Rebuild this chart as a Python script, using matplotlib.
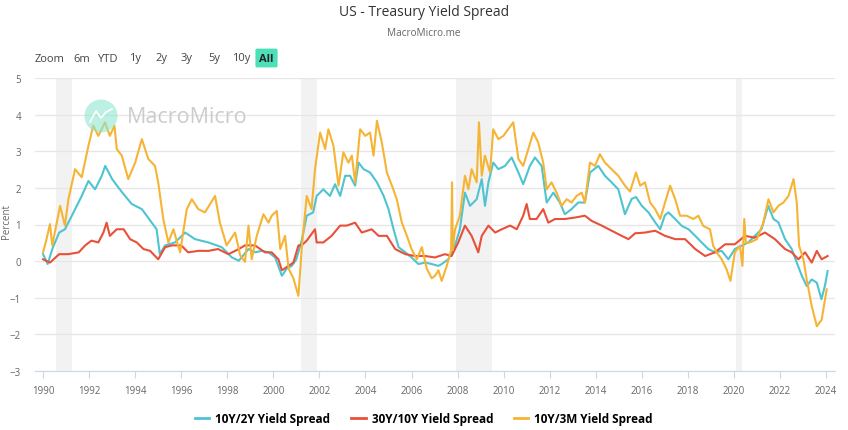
import matplotlib
matplotlib.use("Agg")
import matplotlib.pyplot as plt
from matplotlib.patches import Ellipse
from matplotlib.lines import Line2D

plt.rcParams['font.family'] = ['Open Sans', 'DejaVu Sans']

# ---- data ----
t_2y = [1990.0, 1990.2, 1990.4, 1990.7, 1990.95, 1991.25, 1991.68, 1991.97, 1992.26, 1992.55,
        1992.7, 1993.0, 1993.27, 1993.56, 1993.85, 1994.29, 1994.72, 1994.93, 1995.07, 1995.3,
        1995.73, 1996.17, 1996.6, 1997.18, 1997.76, 1998.2, 1998.5, 1998.92, 1999.2, 1999.5,
        1999.79, 2000.08, 2000.37, 2000.59, 2000.8, 2001.0, 2001.23, 2001.45, 2001.73, 2001.88,
        2002.17, 2002.46, 2002.68, 2002.9, 2003.12, 2003.33, 2003.55, 2003.7, 2003.92, 2004.2,
        2004.5, 2004.79, 2005.0, 2005.22, 2005.44, 2005.73, 2006.0, 2006.3, 2006.59, 2006.88,
        2007.17, 2007.31, 2007.6, 2007.89, 2008.1, 2008.32, 2008.54, 2008.83, 2009.05, 2009.19,
        2009.34, 2009.55, 2009.77, 2010.06, 2010.35, 2010.64, 2010.85, 2011.14, 2011.36, 2011.65,
        2011.87, 2012.16, 2012.44, 2012.66, 2012.95, 2013.24, 2013.53, 2013.75, 2014.11, 2014.4,
        2014.69, 2014.98, 2015.27, 2015.56, 2015.75, 2016.0, 2016.29, 2016.58, 2016.8, 2017.0,
        2017.16, 2017.45, 2017.74, 2018.03, 2018.32, 2018.6, 2018.89, 2019.18, 2019.47, 2019.76,
        2020.04, 2020.33, 2020.62, 2020.91, 2021.2, 2021.49, 2021.72, 2021.93, 2022.22, 2022.51,
        2022.73, 2022.95, 2023.16, 2023.38, 2023.6, 2023.8, 2023.95, 2024.07]
spread_10y2y = [0.19, -0.08, 0.33, 0.78, 0.87, 1.24, 1.78, 2.19, 1.96, 2.33,
                2.6, 2.24, 2.01, 1.78, 1.56, 1.42, 1.05, 0.87, 0.19, 0.43,
                0.51, 0.78, 0.6, 0.51, 0.38, 0.1, 0.01, 0.33, 0.24, 0.28,
                0.24, 0.1, -0.4, -0.2, -0.13, 0.05, 0.56, 1.24, 1.33, 1.78,
                1.96, 1.78, 2.1, 1.78, 2.33, 2.33, 2.06, 2.69, 2.51, 2.42,
                2.15, 1.78, 1.42, 0.87, 0.38, 0.24, 0.1, -0.08, -0.04, -0.08,
                -0.13, -0.08, 0.05, 0.43, 0.87, 1.87, 1.51, 1.69, 2.24, 1.51,
                2.15, 2.69, 2.51, 2.6, 2.83, 2.42, 2.1, 2.6, 2.83, 2.6,
                1.6, 1.87, 1.6, 1.28, 1.42, 1.6, 1.6, 2.42, 2.6, 2.33,
                2.15, 1.96, 1.28, 1.7, 1.75, 1.51, 1.33, 1.06, 0.87, 1.25,
                1.33, 1.15, 0.96, 0.87, 0.69, 0.51, 0.33, 0.24, 0.28, 0.05,
                0.33, 0.42, 0.51, 0.69, 0.87, 1.51, 1.15, 1.06, 0.6, 0.33,
                -0.04, -0.4, -0.68, -0.5, -0.59, -1.04, -0.68, -0.27]

t_30y = [1990.0, 1990.3, 1990.7, 1991.1, 1991.55, 1991.83, 1992.1, 1992.4, 1992.62, 1992.76,
         1992.9, 1993.2, 1993.5, 1993.78, 1994.07, 1994.36, 1994.65, 1995.0, 1995.3, 1995.6,
         1996.0, 1996.3, 1996.75, 1997.18, 1997.6, 1998.05, 1998.5, 1998.77, 1999.2, 1999.64,
         1999.93, 2000.22, 2000.37, 2000.66, 2000.87, 2001.09, 2001.23, 2001.45, 2001.81, 2001.88,
         2002.17, 2002.53, 2002.9, 2003.19, 2003.55, 2003.84, 2004.27, 2004.57, 2004.93, 2005.29,
         2005.73, 2006.15, 2006.59, 2007.02, 2007.45, 2007.74, 2008.03, 2008.32, 2008.61, 2008.9,
         2009.05, 2009.34, 2009.63, 2009.92, 2010.28, 2010.57, 2010.85, 2011.0, 2011.14, 2011.43,
         2011.72, 2011.94, 2012.23, 2012.66, 2013.1, 2013.53, 2013.82, 2014.26, 2014.69, 2015.13,
         2015.42, 2015.71, 2016.14, 2016.58, 2017.01, 2017.45, 2017.88, 2018.32, 2018.75, 2019.18,
         2019.62, 2020.04, 2020.48, 2020.91, 2021.35, 2021.78, 2022.22, 2022.51, 2022.8, 2023.09,
         2023.38, 2023.6, 2023.81, 2024.07]
spread_30y10y = [0.05, -0.04, 0.19, 0.19, 0.24, 0.43, 0.56, 0.51, 0.78, 1.05,
                 0.69, 0.87, 0.87, 0.6, 0.51, 0.33, 0.28, 0.05, 0.38, 0.43,
                 0.43, 0.24, 0.28, 0.28, 0.33, 0.19, 0.33, 0.43, 0.43, 0.24,
                 0.24, 0.05, -0.25, -0.13, -0.04, 0.43, 0.43, 0.56, 0.87, 0.51,
                 0.51, 0.69, 0.97, 0.97, 1.05, 0.78, 0.87, 0.69, 0.69, 0.33,
                 0.19, 0.14, 0.14, 0.1, 0.19, 0.14, 0.51, 0.97, 0.69, 0.24,
                 0.69, 0.97, 0.78, 0.87, 0.97, 0.87, 1.24, 1.56, 1.15, 1.15,
                 1.42, 1.05, 1.15, 1.15, 1.19, 1.24, 1.1, 0.97, 0.83, 0.69,
                 0.6, 0.76, 0.78, 0.83, 0.69, 0.6, 0.6, 0.33, 0.14, 0.24,
                 0.46, 0.46, 0.69, 0.64, 0.78, 0.6, 0.33, 0.24, 0.05, 0.24,
                 -0.04, 0.28, 0.05, 0.14]

t_3m = [1990.0, 1990.15, 1990.3, 1990.4, 1990.55, 1990.74, 1990.95, 1991.1, 1991.39, 1991.68,
        1991.97, 1992.18, 1992.4, 1992.69, 1992.9, 1993.1, 1993.2, 1993.42, 1993.7, 1994.0,
        1994.29, 1994.57, 1994.86, 1995.0, 1995.22, 1995.44, 1995.66, 1995.95, 1996.24, 1996.46,
        1996.74, 1997.03, 1997.47, 1997.68, 1997.97, 1998.34, 1998.56, 1998.77, 1998.92, 1999.06,
        1999.28, 1999.57, 1999.79, 1999.93, 2000.15, 2000.3, 2000.51, 2000.66, 2000.87, 2001.09,
        2001.23, 2001.45, 2001.66, 2001.81, 2002.03, 2002.25, 2002.39, 2002.61, 2002.83, 2003.04,
        2003.26, 2003.41, 2003.55, 2003.77, 2003.99, 2004.2, 2004.35, 2004.5, 2004.71, 2004.93,
        2005.15, 2005.36, 2005.58, 2005.8, 2006.0, 2006.23, 2006.45, 2006.66, 2006.88, 2007.02,
        2007.17, 2007.31, 2007.53, 2007.72, 2007.76, 2007.79, 2007.89, 2008.1, 2008.32, 2008.47,
        2008.61, 2008.83, 2008.93, 2009.05, 2009.19, 2009.41, 2009.55, 2009.77, 2009.99, 2010.2,
        2010.42, 2010.64, 2010.85, 2011.07, 2011.29, 2011.5, 2011.72, 2011.87, 2012.08, 2012.3,
        2012.52, 2012.74, 2012.95, 2013.17, 2013.39, 2013.53, 2013.75, 2013.97, 2014.18, 2014.4,
        2014.69, 2014.98, 2015.27, 2015.49, 2015.75, 2015.93, 2016.14, 2016.36, 2016.58, 2016.8,
        2017.01, 2017.23, 2017.45, 2017.66, 2017.95, 2018.24, 2018.46, 2018.67, 2018.96, 2019.1,
        2019.25, 2019.47, 2019.68, 2019.85, 2020.04, 2020.26, 2020.37, 2020.45, 2020.52, 2020.7,
        2021.0, 2021.28, 2021.5, 2021.72, 2021.93, 2022.15, 2022.37, 2022.59, 2022.73, 2022.83,
        2023.02, 2023.16, 2023.38, 2023.6, 2023.81, 2024.03]
spread_10y3m = [0.24, 0.6, 1.01, 0.43, 0.9, 1.51, 0.97, 1.69, 2.51, 2.29,
                3.15, 3.7, 3.42, 3.79, 3.42, 3.7, 3.06, 2.88, 2.24, 2.69,
                3.33, 2.79, 2.6, 2.15, 1.15, 0.51, 0.87, 0.24, 1.42, 1.69,
                1.42, 1.33, 1.78, 1.05, 0.43, 0.78, 0.16, -0.02, 0.97, 0.05,
                0.69, 1.28, 1.05, 1.24, 1.37, 0.33, 0.69, -0.2, -0.47, -0.95,
                0.33, 1.78, 1.42, 2.51, 3.51, 3.06, 3.6, 3.15, 2.06, 2.97,
                2.69, 2.88, 2.15, 3.6, 3.42, 3.51, 2.88, 3.83, 3.24, 2.42,
                2.06, 1.69, 1.05, 0.69, 0.33, 0.05, 0.38, -0.2, -0.47, -0.4,
                -0.25, -0.54, -0.13, 0.3, 2.15, 0.3, 0.87, 1.24, 2.33, 1.96,
                2.51, 2.15, 3.79, 2.33, 2.88, 2.42, 3.6, 3.33, 3.42, 3.6,
                3.79, 2.79, 2.6, 3.06, 3.51, 3.24, 2.69, 1.96, 2.15, 1.87,
                1.51, 1.69, 1.6, 1.78, 1.87, 1.6, 2.69, 2.6, 2.92, 2.69,
                2.51, 2.33, 2.06, 1.9, 2.42, 2.06, 2.15, 1.6, 1.42, 1.15,
                1.6, 2.06, 1.69, 1.24, 1.24, 1.15, 1.24, 0.96, 0.87, 0.42,
                0.24, 0.05, -0.22, -0.54, 0.24, 0.42, -0.13, 1.15, 0.5, 0.51,
                0.6, 1.06, 1.69, 1.33, 1.51, 1.6, 1.78, 2.24, 1.6, 0.42,
                0.05, -0.5, -1.23, -1.78, -1.6, -0.77]

recessions = [(1990.55, 1991.25), (2001.2, 2001.9), (2007.95, 2009.5), (2020.1, 2020.35)]
year_ticks = list(range(1990, 2025, 2))
y_ticks = [-3, -2, -1, 0, 1, 2, 3, 4, 5]
buttons = ["6m", "YTD", "1y", "2y", "3y", "5y", "10y"]
button_x = [73, 97, 129, 155, 181, 208, 232]

C_2Y = "#4fc4d1"
C_30Y = "#e8503a"
C_3M = "#f6b434"
GRAY = "#666666"

W, H = 848, 431
fig = plt.figure(figsize=(W / 100, H / 100), dpi=100)
ax = fig.add_axes([35 / W, (H - 372) / H, 800 / W, 293 / H])


def fx(px):
    return px / W


def fy(py):
    return (H - py) / H


for a, b in recessions:
    ax.axvspan(a, b, color="#f2f2f2", lw=0, zorder=0)

ax.plot(t_2y, spread_10y2y, color=C_2Y, lw=1.5, zorder=3)
ax.plot(t_30y, spread_30y10y, color=C_30Y, lw=1.5, zorder=4)
ax.plot(t_3m, spread_10y3m, color=C_3M, lw=1.5, zorder=5)

ax.set_xlim(1989.65, 2024.39)
ax.set_ylim(-3, 5)
ax.set_yticks(y_ticks)
ax.set_xticks(year_ticks)
ax.grid(axis="y", color="#e6e6e6", lw=0.9, zorder=1)
for s in ["top", "right", "left"]:
    ax.spines[s].set_visible(False)
ax.spines["bottom"].set_color("#ccd6eb")
ax.tick_params(axis="y", length=0, labelsize=7, labelcolor=GRAY, pad=10)
ax.tick_params(axis="x", length=5, color="#ccd6eb", labelsize=7, labelcolor=GRAY, pad=5)

# watermark
fig.patches.append(Ellipse((fx(101), fy(117)), 33 / W, 33 / H, transform=fig.transFigure,
                           facecolor="#8fe6cf", alpha=0.6, edgecolor="none", zorder=2))
fig.lines.append(Line2D([fx(90), fx(96), fx(101), fx(106), fx(112)],
                        [fy(123), fy(112), fy(119), fy(113), fy(110)],
                        transform=fig.transFigure, color="white", lw=1.2, zorder=3))
fig.text(fx(127), fy(118), "MacroMicro", fontsize=15.5, color="#cccccc", va="center", ha="left")

# titles
fig.text(0.5, fy(13), "US - Treasury Yield Spread", ha="center", va="center", fontsize=10, color="#333333")
fig.text(0.5, fy(33), "MacroMicro.me", ha="center", va="center", fontsize=7.2, color=GRAY)

# range selector
fig.text(fx(35), fy(59), "Zoom", fontsize=8, color="#444444", va="center")
for lab, px in zip(buttons, button_x):
    fig.text(fx(px), fy(59), lab, fontsize=8, color="#444444", va="center")
fig.text(fx(266.5), fy(59), "All", fontsize=8, color="#222222", fontweight="bold", va="center", ha="center",
         bbox=dict(boxstyle="round,pad=0.35,rounding_size=0.15", facecolor="#4ddfb8", edgecolor="none"))

fig.text(fx(6), fy(222), "Percent", rotation=90, fontsize=7, color=GRAY, va="center", ha="center")

handles = [Line2D([], [], color=C_2Y, lw=2),
           Line2D([], [], color=C_30Y, lw=2),
           Line2D([], [], color=C_3M, lw=2)]
labels = ["10Y/2Y Yield Spread", "30Y/10Y Yield Spread", "10Y/3M Yield Spread"]
fig.legend(handles, labels, loc="center", bbox_to_anchor=(0.5, fy(420)), ncol=3, frameon=False,
           prop={"size": 8.5, "weight": "bold"}, handlelength=1.2, handletextpad=0.5, columnspacing=1.8)

fig.savefig("out.png", dpi=100, facecolor="white")
